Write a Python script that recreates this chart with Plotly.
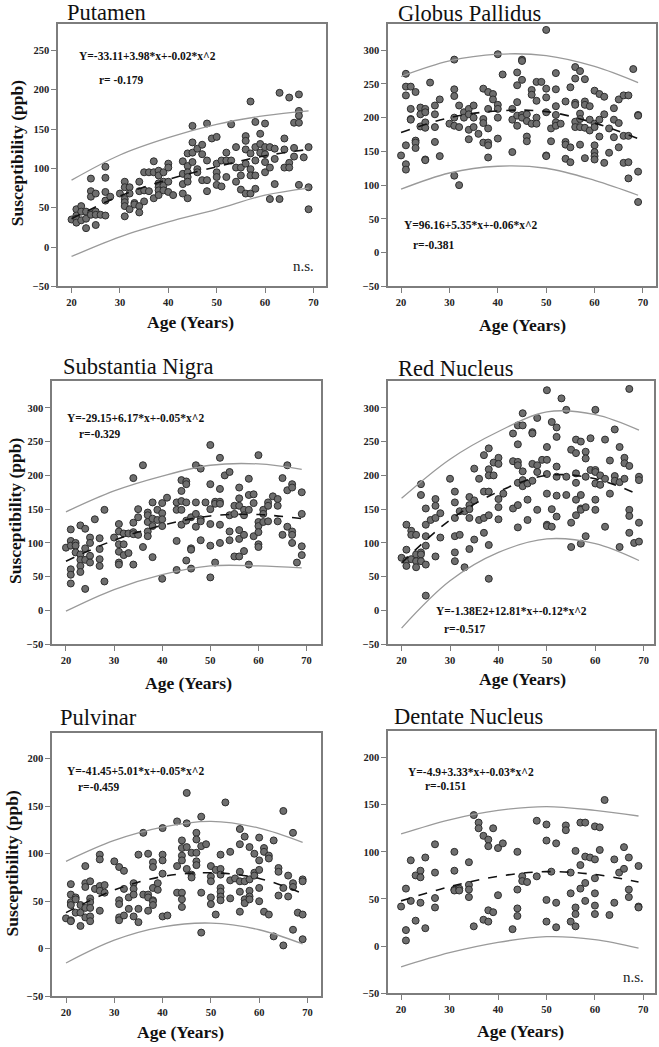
import plotly.graph_objects as go

# ---------------- data ----------------
putamen_age = [20, 21,21,21,21, 22,22,22, 23,23,23, 24,24,24,24,24, 25,25,25,25, 26, 27,27,27,27,27, 28, 30,
               31,31,31,31,31,31, 32,32,32, 33,33, 34,34,34,34, 35,35,35, 36,36, 37,37,37, 38,38,38,38,38,38,
               39,39,39,39, 40,40,40,40, 41, 43,43,43,43, 44,44,44,44,44,44, 45,45,45,45, 46,46,46, 47,47,47,
               48,48,48,48, 49, 50,50,50,50,50, 51,51, 52,52,52, 53,53, 54,54,54, 55,55,55, 56,56,56,56,56,
               57,57,57,57,57, 58,58,58,58,58, 59,59,59, 60,60,60,60,60, 61,61,61, 62,62,62, 63,63, 64,64,64,
               65,65,65, 66,66,66, 67,67,67,67,67, 68, 69,69,69]
putamen_susc = [35, 48,40,36,31, 52,45,34, 45,36,24, 87,71,64,43,41, 68,45,41,28, 41, 102,88,70,59,40, 64, 68,
                83,76,61,57,52,39, 76,68,48, 56,54, 83,71,52,44, 95,72,58, 95,71, 109,95,62, 97,91,81,76,72,66,
                95,83,78,72, 106,101,83,70, 66, 109,93,80,68, 119,103,95,89,83,62, 154,133,120,108, 125,99,95, 130,118,85,
                157,110,85,71, 138, 140,106,95,89,79, 110,77, 120,110,89, 156,110, 127,101,83, 101,91,73, 141,135,124,106,68,
                185,119,99,91,68, 159,127,110,91,74, 144,131,120, 157,127,118,108,95, 127,101,61, 125,112,80, 196,61, 138,124,101,
                190,107,101, 158,126,115, 194,173,167,158,79, 114, 127,76,48]

pallidus_age = [20, 21,21,21,21,21,21, 22,22,22,22, 23,23,23,23, 24,24,24, 25,25,25,25,25,25, 26, 27,27,27,27, 28,28, 30,
                31,31,31,31,31,31, 32,32,32, 33,33, 34,34,34,34, 35,35,35, 36, 37,37,37,37, 38,38,38,38,38,38, 39,39,
                40,40,40,40,40, 41, 43,43,43, 44,44,44,44,44, 45,45,45,45,45, 46,46,46,46, 47,47,47, 48,48,48,48, 49,
                50,50,50,50,50,50, 51,51, 52,52,52,52,52,52, 53, 54,54,54,54, 55,55,55, 56,56,56,56,56,56,
                57,57,57,57,57, 58,58,58,58,58, 59,59,59, 60,60,60,60,60,60,60, 61,61,61, 62,62,62, 63,63, 64,64,64,
                65,65,65, 66,66,66, 67,67,67,67, 68, 69,69,69,69]
pallidus_susc = [144, 265,246,233,159,131,123, 246,213,198,197, 238,166,163,155, 215,205,187, 213,208,193,185,138,137, 252,
                 218,205,186,164, 227,143, 191, 286,242,232,200,188,114, 218,186,100, 208,200, 213,205,182,168, 218,200,186,
                 176, 243,198,192,163, 238,213,184,163,159,141, 235,227, 294,219,213,200,169, 264, 213,197,149,
                 267,248,223,203,188, 286,284,256,204,200, 205,195,172,165, 241,234,191, 253,225,200,191, 253,
                 330,243,230,208,144,143, 184,165, 266,242,217,204,193,188, 191, 224,164,160,139, 245,156,134,
                 275,258,222,219,194,186, 269,206,198,186,160, 257,224,219,185,140, 217,197,181,
                 240,191,186,159,149,143,138, 235,197,172, 231,205,133, 184,148, 214,197,171,
                 227,192,156, 233,173,133, 233,173,134,110, 272, 204,203,120,75]

nigra_age = [20, 21,21,21,21,21,21, 22,22,22, 23,23,23,23,23, 24,24,24,24, 25,25,25,25, 26, 27,27,27,27, 28,28, 30,
             31,31,31,31,31,31, 32,32,32, 33,33, 34,34,34,34,34, 35,35,35, 36,36, 37,37,37,37,37, 38,38,38,38, 39,39,
             40,40,40,40,40, 41, 43,43,43,43, 44,44,44,44,44, 45,45,45,45,45, 46,46,46,46, 47,47,47,47, 48,48,48,48, 49,
             50,50,50,50,50,50, 51,51,51, 52,52,52,52,52,52, 53, 54,54,54,54, 55,55,55, 56,56,56,56,56,56,
             57,57,57,57, 58,58,58,58, 59,59,59, 60,60,60,60,60,60, 61,61,61, 62,62,62, 63, 64,64,64, 65,65,
             66,66,66, 67,67,67,67,67, 68, 69,69,69,69]
nigra_susc = [93, 120,103,96,61,53,40, 100,96,86, 126,83,75,66,57, 121,92,75,32, 108,100,81,71, 135, 107,91,76,66, 149,43, 108,
              128,117,98,87,71,68, 114,98,82, 114,85, 196,130,116,113,68, 150,138,112, 215,94, 145,141,131,117,110,
              160,136,125,79, 149,134, 159,144,135,125,47, 167, 160,149,103,60, 193,177,162,149,127, 191,187,160,133,74,
              138,92,90,62, 215,160,143,124, 210,135,132,104, 160, 245,187,150,128,96,49, 161,158,71,
              226,180,161,158,127,100, 200, 205,141,117,104, 155,143,80, 182,166,155,119,106,80,
              149,141,112,88, 195,171,149,68, 172,159,110, 230,131,125,116,98,94, 149,143,131, 160,155,132, 169,
              165,155,132, 196,112, 215,178,124, 187,182,117,112,100, 71, 175,143,95,82]

red_age = [20, 21,21,21,21, 22,22,22, 23,23,23,23, 24,24,24,24,24, 25,25,25,25,25,25, 26, 27,27,27,27, 28,28, 30,
           31,31,31,31,31,31, 32,32, 33,33, 34,34,34,34,34, 35,35,35, 36,36, 37,37,37,37, 38,38,38,38,38,38,38, 39,39,
           40,40,40,40,40, 41, 43,43,43, 44,44,44,44,44,44,44, 45,45,45,45,45, 46,46,46, 47,47,47,47, 48,48,48,48, 49,
           50,50,50,50,50,50,50, 51,51,51, 52,52,52,52,52,52, 53, 54,54,54, 55,55,55, 56,56,56,56,56,56,
           57,57,57,57,57, 58,58,58,58,58, 59,59, 60,60,60,60,60,60, 61,61, 62,62,62, 63,63, 64,64,64, 65,65,65,
           66,66,66, 67,67,67,67,67, 68, 69,69,69,69]
red_susc = [78, 127,90,74,66, 118,112,76, 112,83,73,64, 187,171,86,83,73, 151,127,110,96,68,22, 134, 165,155,137,80, 144,108, 195,
            176,160,137,110,86,73, 147,112, 147,64, 168,156,150,137,91, 210,163,105, 195,134, 230,176,137,115,
            240,209,200,176,141,97,47, 219,200, 226,217,165,153,135, 173, 262,221,151, 274,246,220,215,189,156,123,
            292,274,206,193,184, 188,164,134, 264,262,217,192, 285,215,205,149, 223,
            326,242,223,202,173,127,125, 279,150,124, 271,257,213,198,170,139, 314, 297,198,171, 238,130,94,
            253,233,203,189,164,141, 250,171,151,149,99, 235,225,198,153,110, 255,208, 297,208,205,188,164,149,
            200,186, 253,195,124, 222,173, 268,199,192, 242,190,94, 226,218,195, 328,214,149,140,115, 100,
            198,193,130,102]

pulvinar_age = [20, 21,21,21,21,21,21, 22,22,22, 23,23,23, 24,24,24,24,24, 25,25,25,25,25,25, 26, 27,27,27,27,27, 28,28, 30,
                31,31,31,31,31, 32,32,32, 33,33, 34,34,34,34, 35,35,35, 36,36, 37,37,37,37, 38,38,38,38,38,38, 39,39,
                40,40,40,40,40, 41, 43,43,43, 44,44,44,44,44,44,44, 45,45,45,45, 46,46,46, 47,47,47,47,47, 48,48,48,48, 49,
                50,50,50,50,50, 51,51, 52,52,52,52,52,52,52, 53, 54,54,54, 55, 56,56,56,56,56,56, 57,57,57,57,
                58,58,58,58,58, 59,59,59, 60,60,60,60,60, 61,61,61, 62,62,62, 63,63, 64,64,64, 65,65,65, 66,66,
                67,67,67,67, 68, 69,69,69,69]
pulvinar_susc = [32, 68,57,49,46,30,29, 54,52,38, 46,38,24, 87,69,65,43,33, 71,53,49,43,34,29, 63, 99,94,66,61,40, 67,59, 92,
                 86,51,47,33,30, 82,63,35, 54,42, 69,63,57,34, 99,42,28, 122,57, 100,57,54,40, 91,86,64,51,50,46, 69,62,
                 127,99,93,79,34, 35, 134,87,59, 114,106,98,93,59,52,44, 164,132,107,84, 101,78,75, 122,115,101,92,88,
                 139,108,59,17, 110, 87,76,71,54,47, 83,36, 99,84,78,64,60,55,51, 154, 102,72,53, 74,
                 126,110,81,71,60,39, 118,71,52,48, 107,73,61,55,52, 100,80,77, 117,93,83,64,50, 106,102,39,
                 98,95,36, 114,13, 85,81,56, 145,64,3.5, 77,55, 122,69,65,20, 38, 73,71,36,10]

dentate_age = [20, 21,21,21, 22,22, 23,23, 24,24,24, 25,25, 27,27,27,27, 31,31,31,31, 32,32, 34,34,34,34, 35,35, 36,36,
               37,37, 38,38,38,38, 39,39, 40,40, 41, 43, 44,44,44,44, 45,45, 46, 48,48, 50,50,50,50, 51, 52,52,52,
               54,54, 55,55,55, 56,56,56,56, 57,57,57, 58,58,58,58, 59, 60,60,60,60,60,60, 61,61, 62, 63, 64,64, 65,
               66,66, 67,67,67, 69,69,69]
dentate_susc = [42, 61,17,6, 91,48, 75,27, 80,73,46, 94,19, 108,78,51,41, 100,80,60,59, 61,59, 89,65,60,52, 139,21, 131,125,
                117,28, 113,106,38,26, 125,36, 104,54, 109, 18, 100,60,40,32, 74,69, 68, 133,74, 129,112,49,26, 79, 109,46,20,
                128,123, 78,56,26, 101,41,34,21, 131,86,61, 131,95,67,48, 94, 127,92,72,56,43,34, 126,102, 155, 33, 92,46, 78,
                105,82, 94,60,52, 85,42,41]

# fitted quadratic and prediction-interval curves, read at these ages
fit_age = [20, 30, 40, 50, 60, 69]
putamen_mean = [36, 65, 86, 102, 116, 124]
putamen_upper = [85, 117, 139, 156, 167, 173]
putamen_lower = [-12, 13, 32, 48, 66, 75]
pallidus_mean = [178, 200, 210, 209, 192, 169]
pallidus_upper = [261, 284, 294, 292, 276, 252]
pallidus_lower = [94, 118, 128, 125, 107, 85]
nigra_mean = [73, 104, 126, 140, 142, 136]
nigra_upper = [146, 177, 199, 215, 217, 209]
nigra_lower = [-1, 31, 53, 66, 66, 63]
red_mean = [70, 134, 176, 200, 195, 171]
red_upper = [166, 224, 265, 294, 290, 267]
red_lower = [-26, 44, 86, 106, 99, 74]
pulvinar_mean = [38, 62, 76, 80, 74, 58]
pulvinar_upper = [92, 114, 128, 134, 127, 112]
pulvinar_lower = [-15, 9, 23, 27, 20, 5]
dentate_mean = [48, 63, 74, 79, 76, 68]
dentate_upper = [119, 134, 144, 148, 144, 138]
dentate_lower = [-22, -7, 4, 10, 7, -2]

titles = ["Putamen", "Globus Pallidus", "Substantia Nigra", "Red Nucleus", "Pulvinar", "Dentate Nucleus"]
equations = ["Y=-33.11+3.98*x+-0.02*x^2", "Y=96.16+5.35*x+-0.06*x^2", "Y=-29.15+6.17*x+-0.05*x^2",
             "Y=-1.38E2+12.81*x+-0.12*x^2", "Y=-41.45+5.01*x+-0.05*x^2", "Y=-4.9+3.33*x+-0.03*x^2"]
r_texts = ["r= -0.179", "r=-0.381", "r=-0.329", "r=-0.517", "r=-0.459", "r=-0.151"]
y_ticks = [[-50, 0, 50, 100, 150, 200, 250],
           [-50, 0, 50, 100, 150, 200, 250, 300],
           [-50, 0, 50, 100, 150, 200, 250, 300],
           [-50, 0, 50, 100, 150, 200, 250, 300],
           [-50, 0, 50, 100, 150, 200],
           [-50, 0, 50, 100, 150, 200]]
x_ticks = [20, 30, 40, 50, 60, 70]

series = [
    (putamen_age, putamen_susc, putamen_mean, putamen_upper, putamen_lower),
    (pallidus_age, pallidus_susc, pallidus_mean, pallidus_upper, pallidus_lower),
    (nigra_age, nigra_susc, nigra_mean, nigra_upper, nigra_lower),
    (red_age, red_susc, red_mean, red_upper, red_lower),
    (pulvinar_age, pulvinar_susc, pulvinar_mean, pulvinar_upper, pulvinar_lower),
    (dentate_age, dentate_susc, dentate_mean, dentate_upper, dentate_lower),
]
for a, v, *_ in series:
    assert len(a) == len(v), (len(a), len(v))

# ---------------- layout geometry (pixels) ----------------
W, H = 659, 1047
# frame: left, right, top, bottom ; axis ranges
frames = [(58, 326, 24, 288), (388, 656, 24, 288),
          (52, 321, 383, 648), (388, 654, 383, 648),
          (52, 321, 737, 1002), (388, 655, 735, 999)]
x_ranges = [[17.2, 72.6], [17.3, 72.7], [17.1, 73.0], [17.2, 72.1], [17.1, 72.8], [17.3, 72.4]]
y_ranges = [[-50, 283.7], [-50, 339], [-50, 340], [-50, 340], [-50, 227.3], [-50, 228.4]]

title_pos = [(65, 12.5), (395.7, 13.5), (61, 369), (395.7, 371), (58.3, 722), (391.7, 721)]
eq_pos = [(77.3, 56.7), (401.7, 226.7), (65, 420.7), (434, 615), (65, 775.7), (406.3, 776)]
r_pos = [(97.3, 80), (410.7, 246.7), (77.3, 436.7), (442.3, 632.7), (76, 791.7), (423.3, 790.7)]
xtitle_pos = [(190, 324), (522.3, 326.7), (188, 686.7), (522, 683.3), (180.3, 1038.3), (520, 1036.7)]
ytitle_pos = {0: (16.7, 153.5), 2: (15, 514), 4: (12.5, 868)}
ns_pos = {0: (303, 268), 5: (633.5, 982.7)}

SERIF = "Liberation Serif, Times New Roman, serif"
FRAME = "#7d7d7d"


def px(x):
    return x / W


def py(y):
    return 1 - y / H


fig = go.Figure()
annotations = []
layout_axes = {}

for i, (ages, vals, mean, upper, lower) in enumerate(series):
    n = "" if i == 0 else str(i + 1)
    xa, ya = "x" + n, "y" + n
    l, r, t, b = frames[i]
    layout_axes["xaxis" + n] = dict(
        domain=[px(l), px(r)], range=x_ranges[i], anchor=ya,
        showline=True, linecolor=FRAME, linewidth=1.5, mirror=True,
        ticks="outside", ticklen=5, tickwidth=1.2, tickcolor=FRAME,
        tickvals=x_ticks, showgrid=False, zeroline=False,
        tickfont=dict(family=SERIF, size=10.5, color="#222", weight="bold"),
    )
    layout_axes["yaxis" + n] = dict(
        domain=[py(b), py(t)], range=y_ranges[i], anchor=xa,
        showline=True, linecolor=FRAME, linewidth=1.5, mirror=True,
        ticks="outside", ticklen=5, tickwidth=1.2, tickcolor=FRAME,
        tickvals=y_ticks[i], showgrid=False, zeroline=False,
        tickfont=dict(family=SERIF, size=10.5, color="#222", weight="bold"),
    )
    fig.add_trace(go.Scatter(
        x=ages, y=vals, mode="markers", xaxis=xa, yaxis=ya, showlegend=False,
        marker=dict(size=7, color="#6e6e6e", line=dict(color="#2e2e2e", width=1)),
    ))
    for curve in (upper, lower):
        fig.add_trace(go.Scatter(
            x=fit_age, y=curve, mode="lines", xaxis=xa, yaxis=ya, showlegend=False,
            line=dict(color="#9a9a9a", width=1.3, shape="spline"),
        ))
    fig.add_trace(go.Scatter(
        x=fit_age, y=mean, mode="lines", xaxis=xa, yaxis=ya, showlegend=False,
        line=dict(color="#111", width=1.6, dash="dash", shape="spline"),
    ))

    tx, ty = title_pos[i]
    annotations.append(dict(text=titles[i], x=px(tx), y=py(ty), xref="paper", yref="paper",
                            xanchor="left", yanchor="middle", showarrow=False,
                            font=dict(family=SERIF, size=22.5, color="#111")))
    ex, ey = eq_pos[i]
    annotations.append(dict(text=equations[i], x=px(ex), y=py(ey), xref="paper", yref="paper",
                            xanchor="left", yanchor="middle", showarrow=False,
                            font=dict(family=SERIF, size=11.5, color="#111", weight="bold")))
    rx, ry = r_pos[i]
    annotations.append(dict(text=r_texts[i], x=px(rx), y=py(ry), xref="paper", yref="paper",
                            xanchor="left", yanchor="middle", showarrow=False,
                            font=dict(family=SERIF, size=11.5, color="#111", weight="bold")))
    ax_, ay_ = xtitle_pos[i]
    annotations.append(dict(text="Age (Years)", x=px(ax_), y=py(ay_), xref="paper", yref="paper",
                            xanchor="center", yanchor="middle", showarrow=False,
                            font=dict(family=SERIF, size=17.5, color="#111", weight="bold")))
    if i in ytitle_pos:
        yx, yy = ytitle_pos[i]
        annotations.append(dict(text="Susceptibility (ppb)", x=px(yx), y=py(yy), xref="paper", yref="paper",
                                xanchor="center", yanchor="middle", textangle=-90, showarrow=False,
                                font=dict(family=SERIF, size=17.5, color="#111", weight="bold")))
    if i in ns_pos:
        nx, ny = ns_pos[i]
        annotations.append(dict(text="n.s.", x=px(nx), y=py(ny), xref="paper", yref="paper",
                                xanchor="center", yanchor="middle", showarrow=False,
                                font=dict(family=SERIF, size=15, color="#222")))

fig.update_layout(
    width=W, height=H, margin=dict(l=0, r=0, t=0, b=0),
    paper_bgcolor="white", plot_bgcolor="white",
    annotations=annotations, **layout_axes,
)

fig.write_html(
    "out.html",
    config={"displayModeBar": False},
    post_script="document.body.style.margin='0';document.body.style.overflow='hidden';",
)
